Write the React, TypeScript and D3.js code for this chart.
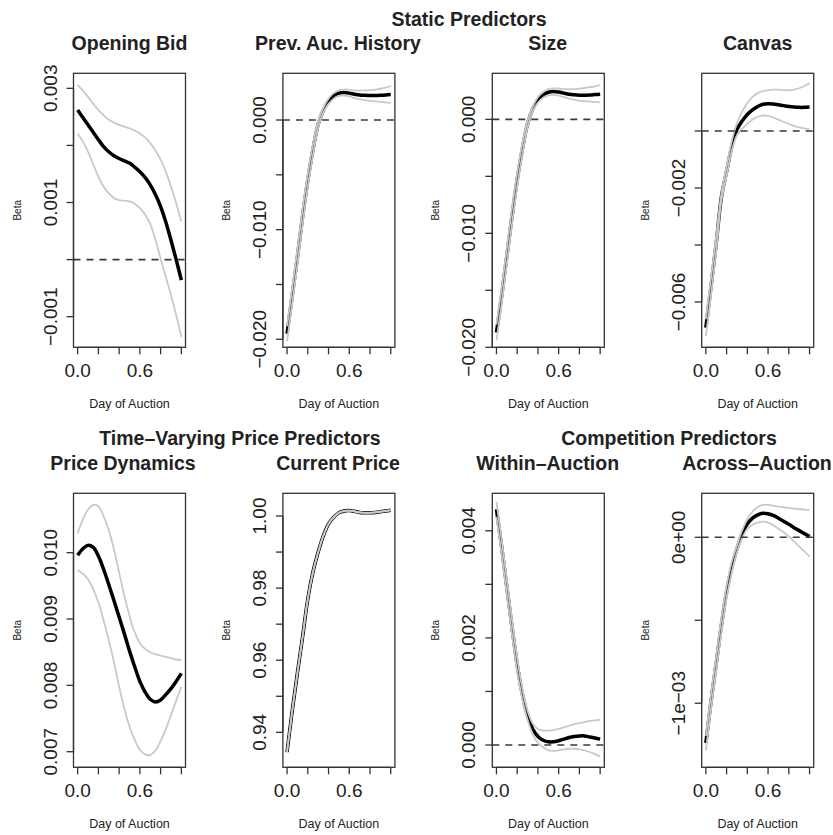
import React from "react";
import * as d3 from "d3";

// ---------- data ----------
const X_GRID = [0, 0.05, 0.1, 0.15, 0.2, 0.25, 0.3, 0.35, 0.4, 0.45, 0.5, 0.55, 0.6, 0.65, 0.7, 0.75, 0.8, 0.85, 0.9, 0.95, 1.0];

const PANEL_TITLES = ["Opening Bid", "Prev. Auc. History", "Size", "Canvas", "Price Dynamics", "Current Price", "Within\u2013Auction", "Across\u2013Auction"];
const GROUP_TITLES = ["Static Predictors", "Time\u2013Varying Price Predictors", "Competition Predictors"];
const X_LABEL = "Day of Auction";
const Y_LABEL = "Beta";

// Opening Bid
const EST_OPENING = [0.00262, 0.00249, 0.00236, 0.00223, 0.0021, 0.00198, 0.00189, 0.00182, 0.00177, 0.00173, 0.00169, 0.00162, 0.00154, 0.00144, 0.00131, 0.00114, 0.00093, 0.00066, 0.00034, 0.0, -0.00036];
const HI_OPENING = [0.00306, 0.00296, 0.00285, 0.00273, 0.00262, 0.00253, 0.00245, 0.0024, 0.00236, 0.00233, 0.0023, 0.00226, 0.00221, 0.00214, 0.00204, 0.00191, 0.00175, 0.00154, 0.00128, 0.00099, 0.00067];
const LO_OPENING = [0.00221, 0.00207, 0.00189, 0.00167, 0.00145, 0.00128, 0.00116, 0.00108, 0.00104, 0.00103, 0.00102, 0.00098, 0.0009, 0.00079, 0.00062, 0.00035, 0.00002, -0.0003, -0.00062, -0.00097, -0.00135];

// Prev. Auc. History
const EST_PREV = [-0.0195, -0.016, -0.0125, -0.0088, -0.0055, -0.0027, -0.0004, 0.0009, 0.0017, 0.0022, 0.00245, 0.0025, 0.00245, 0.00235, 0.00228, 0.00225, 0.00223, 0.00223, 0.00225, 0.00228, 0.00232];
const HI_PREV = [-0.0188, -0.0153, -0.0118, -0.0081, -0.0049, -0.0022, -0.0001, 0.00112, 0.00195, 0.00245, 0.0027, 0.00278, 0.00275, 0.0027, 0.00268, 0.0027, 0.00273, 0.00278, 0.00285, 0.00295, 0.0031];
const LO_PREV = [-0.0202, -0.0167, -0.0132, -0.0095, -0.0061, -0.0032, -0.0007, 0.0007, 0.00147, 0.00195, 0.0022, 0.00222, 0.00215, 0.002, 0.0019, 0.00182, 0.00175, 0.0017, 0.00165, 0.0016, 0.00155];

// Size
const EST_SIZE = [-0.0187, -0.0155, -0.012, -0.0085, -0.0053, -0.0026, -0.0004, 0.0009, 0.0017, 0.00215, 0.00238, 0.00245, 0.0024, 0.0023, 0.0022, 0.00215, 0.00212, 0.00212, 0.00214, 0.00217, 0.0022];
const HI_SIZE = [-0.018, -0.0148, -0.0113, -0.0078, -0.0047, -0.0021, -0.0001, 0.00112, 0.00195, 0.0024, 0.00265, 0.00272, 0.0027, 0.00266, 0.00264, 0.00265, 0.0027, 0.00275, 0.00282, 0.0029, 0.003];
const LO_SIZE = [-0.0194, -0.0162, -0.0127, -0.0092, -0.0059, -0.0031, -0.0007, 0.0007, 0.00147, 0.0019, 0.0021, 0.00215, 0.00208, 0.00195, 0.00182, 0.00172, 0.00165, 0.0016, 0.00156, 0.00152, 0.00148];

// Canvas
const EST_CANVAS = [-0.0069, -0.00545, -0.00395, -0.00232, -0.00142, -0.00055, 0.00005, 0.00035, 0.00058, 0.00074, 0.00086, 0.00094, 0.00096, 0.00095, 0.00092, 0.00089, 0.00086, 0.00084, 0.00083, 0.00083, 0.00084];
const HI_CANVAS = [-0.0066, -0.00515, -0.00367, -0.0022, -0.00125, -0.00035, 0.00028, 0.00068, 0.00098, 0.0012, 0.00133, 0.0014, 0.00143, 0.00145, 0.00145, 0.00144, 0.00143, 0.00145, 0.0015, 0.00158, 0.00168];
const LO_CANVAS = [-0.0072, -0.00575, -0.00423, -0.00245, -0.00158, -0.0007, -0.00015, 0.00008, 0.00025, 0.0004, 0.0005, 0.00055, 0.00053, 0.00047, 0.0004, 0.00032, 0.00025, 0.00018, 0.00013, 0.00009, 0.00006];

// Price Dynamics
const EST_DYN = [0.00996, 0.01006, 0.01011, 0.01008, 0.00995, 0.00975, 0.00952, 0.00928, 0.00903, 0.00878, 0.00852, 0.00828, 0.00806, 0.0079, 0.00779, 0.00775, 0.00778, 0.00786, 0.00795, 0.00806, 0.00818];
const HI_DYN = [0.01029, 0.0105, 0.01065, 0.01072, 0.0107, 0.01055, 0.01034, 0.01005, 0.0097, 0.00935, 0.00905, 0.0088, 0.00864, 0.00855, 0.0085, 0.00847, 0.00845, 0.00843, 0.00841, 0.00839, 0.00838];
const LO_DYN = [0.00974, 0.00968, 0.0096, 0.00945, 0.00925, 0.00898, 0.00868, 0.00835, 0.00798, 0.00765, 0.00738, 0.00718, 0.00703, 0.00696, 0.00695, 0.00702, 0.00716, 0.00734, 0.00755, 0.00777, 0.00798];

// Current Price
const EST_PRICE = [0.9345, 0.946, 0.9565, 0.9665, 0.977, 0.9845, 0.99, 0.9945, 0.9978, 0.9997, 1.0009, 1.0014, 1.0015, 1.0013, 1.001, 1.0009, 1.0009, 1.001, 1.0012, 1.0014, 1.0016];
const HI_PRICE = [0.93455, 0.94605, 0.95655, 0.96655, 0.97705, 0.98455, 0.99005, 0.99455, 0.99785, 0.99975, 1.00095, 1.00145, 1.00155, 1.00135, 1.00105, 1.00095, 1.00095, 1.00105, 1.00125, 1.00145, 1.00165];
const LO_PRICE = [0.93445, 0.94595, 0.95645, 0.96645, 0.97695, 0.98445, 0.98995, 0.99445, 0.99775, 0.99965, 1.00085, 1.00135, 1.00145, 1.00125, 1.00095, 1.00085, 1.00085, 1.00095, 1.00115, 1.00135, 1.00155];

// Within-Auction
const EST_WITHIN = [0.0044, 0.0037, 0.00295, 0.0022, 0.0015, 0.00095, 0.00055, 0.0003, 0.00016, 0.00009, 0.00006, 0.00006, 0.00008, 0.00011, 0.00014, 0.00016, 0.00017, 0.00017, 0.00015, 0.00013, 0.00011];
const HI_WITHIN = [0.00454, 0.00384, 0.00309, 0.00234, 0.00163, 0.00105, 0.00064, 0.0004, 0.0003, 0.00027, 0.00027, 0.00028, 0.0003, 0.00033, 0.00036, 0.00039, 0.00041, 0.00043, 0.00045, 0.00046, 0.00047];
const LO_WITHIN = [0.00426, 0.00356, 0.00281, 0.00206, 0.00137, 0.00085, 0.00047, 0.0002, 0.00004, -0.00004, -0.0001, -0.00011, -0.0001, -0.00008, -0.00007, -0.00007, -0.00008, -0.0001, -0.00013, -0.00017, -0.00022];

// Across-Auction
const EST_ACROSS = [-0.00124, -0.00099, -0.00076, -0.00053, -0.00033, -0.00018, -0.00007, 0.00002, 0.00008, 0.000115, 0.000135, 0.000145, 0.000142, 0.000132, 0.000115, 0.000097, 0.000078, 0.000058, 0.00004, 0.000022, 0.000004];
const HI_ACROSS = [-0.001196, -0.000946, -0.000716, -0.000486, -0.000292, -0.000148, -0.00005, 0.000042, 0.00011, 0.000155, 0.000183, 0.000195, 0.000195, 0.00019, 0.000185, 0.00018, 0.000177, 0.000173, 0.00017, 0.000167, 0.000165];
const LO_ACROSS = [-0.001284, -0.001034, -0.000804, -0.000574, -0.000366, -0.000212, -0.00009, -0.000005, 0.00005, 0.000075, 0.000088, 0.000094, 0.000088, 0.000072, 0.000052, 0.00003, 0.000005, -0.000025, -0.000055, -0.000085, -0.000116];

// axis limits (usr) per panel
const Y_DOMAINS = [
  [-0.001536, 0.003263],
  [-0.02073, 0.00426],
  [-0.02, 0.00404],
  [-0.00759, 0.002025],
  [0.006765, 0.010895],
  [0.9303, 1.0063],
  [-0.000416, 0.0047],
  [-0.001386, 0.000265],
];
const X_DOMAIN = [-0.04, 1.04];

// tick values and which ones carry a label
const Y_TICKS = [
  [0.003, 0.002, 0.001, 0, -0.001],
  [0, -0.005, -0.01, -0.015, -0.02],
  [0, -0.005, -0.01, -0.015, -0.02],
  [0, -0.002, -0.004, -0.006],
  [0.01, 0.009, 0.008, 0.007],
  [1.0, 0.99, 0.98, 0.97, 0.96, 0.95, 0.94],
  [0.004, 0.003, 0.002, 0.001, 0],
  [0, -0.0005, -0.001],
];
const Y_TICK_LABELS = [
  ["0.003", "", "0.001", "", "\u22120.001"],
  ["0.000", "", "\u22120.010", "", "\u22120.020"],
  ["0.000", "", "\u22120.010", "", "\u22120.020"],
  ["", "\u22120.002", "", "\u22120.006"],
  ["0.010", "0.009", "0.008", "0.007"],
  ["1.00", "", "0.98", "", "0.96", "", "0.94"],
  ["0.004", "", "0.002", "", "0.000"],
  ["0e+00", "", "\u22121e\u221203"],
];
const X_TICKS = [0, 0.2, 0.4, 0.6, 0.8, 1.0];
const X_TICK_LABELS = ["0.0", "", "", "0.6", "", ""];
const SHOW_ZERO_LINE = [true, true, true, true, false, false, true, true];

const ESTS = [EST_OPENING, EST_PREV, EST_SIZE, EST_CANVAS, EST_DYN, EST_PRICE, EST_WITHIN, EST_ACROSS];
const HIS = [HI_OPENING, HI_PREV, HI_SIZE, HI_CANVAS, HI_DYN, HI_PRICE, HI_WITHIN, HI_ACROSS];
const LOS = [LO_OPENING, LO_PREV, LO_SIZE, LO_CANVAS, LO_DYN, LO_PRICE, LO_WITHIN, LO_ACROSS];

// ---------- layout ----------
const W = 833;
const H = 835;
const BOX_W = 112;
const BOX_H = 274;
const colLeft = (c: number) => 73.5 + c * 209.4;
const rowTop = (r: number) => 73.3 + r * 420;
const FONT = "'Liberation Sans', Arial, Helvetica, sans-serif";
const TEXT_COL = "#222";
const AXIS_COL = "#333";

const titleX = [129.5, 338, 547.7, 757.7, 123, 338, 547.7, 757];
const groupPos = [
  { x: 469, y: 26 },
  { x: 240, y: 445 },
  { x: 669, y: 445 },
];

function Panel({ i }: { i: number }) {
  const c = i % 4;
  const r = Math.floor(i / 4);
  const left = colLeft(c);
  const top = rowTop(r);
  const right = left + BOX_W;
  const bottom = top + BOX_H;
  const x = d3.scaleLinear().domain(X_DOMAIN).range([left, right]);
  const y = d3.scaleLinear().domain(Y_DOMAINS[i]).range([bottom, top]);
  const line = d3
    .line<number>()
    .x((_, k) => x(X_GRID[k]))
    .y((v) => y(v))
    .curve(d3.curveCatmullRom.alpha(0.5));
  const yt = Y_TICKS[i];
  const ytl = Y_TICK_LABELS[i];
  const midY = (top + bottom) / 2;
  return (
    <g>
      <text
        x={titleX[i]}
        y={top - 23.5}
        textAnchor="middle"
        fontFamily={FONT}
        fontWeight="bold"
        fontSize={19.5}
        fill={TEXT_COL}
      >
        {PANEL_TITLES[i]}
      </text>
      <path d={line(ESTS[i]) || ""} fill="none" stroke="#000" strokeWidth={3.5} strokeLinejoin="round" />
      <path d={line(HIS[i]) || ""} fill="none" stroke="#c9c9c9" strokeWidth={1.8} />
      <path d={line(LOS[i]) || ""} fill="none" stroke="#c9c9c9" strokeWidth={1.8} />
      {SHOW_ZERO_LINE[i] && (
        <line x1={left} x2={right} y1={y(0)} y2={y(0)} stroke="#3a3a3a" strokeWidth={1.6} strokeDasharray="7,6" />
      )}
      <rect x={left} y={top} width={BOX_W} height={BOX_H} fill="none" stroke={AXIS_COL} strokeWidth={1.3} />
      {/* y axis */}
      <line x1={left} x2={left} y1={y(yt[0])} y2={y(yt[yt.length - 1])} stroke={AXIS_COL} strokeWidth={1.3} />
      {yt.map((v, k) => (
        <g key={k}>
          <line x1={left - 7} x2={left} y1={y(v)} y2={y(v)} stroke={AXIS_COL} strokeWidth={1.3} />
          {ytl[k] && (
            <text
              transform={`translate(${left - 17},${y(v)}) rotate(-90)`}
              textAnchor="middle"
              fontFamily={FONT}
              fontSize={19}
              fill={TEXT_COL}
            >
              {ytl[k]}
            </text>
          )}
        </g>
      ))}
      {/* x axis */}
      <line x1={x(X_TICKS[0])} x2={x(X_TICKS[X_TICKS.length - 1])} y1={bottom} y2={bottom} stroke={AXIS_COL} strokeWidth={1.3} />
      {X_TICKS.map((v, k) => (
        <g key={k}>
          <line x1={x(v)} x2={x(v)} y1={bottom} y2={bottom + 7} stroke={AXIS_COL} strokeWidth={1.3} />
          {X_TICK_LABELS[k] && (
            <text x={x(v)} y={bottom + 30} textAnchor="middle" fontFamily={FONT} fontSize={19} fill={TEXT_COL}>
              {X_TICK_LABELS[k]}
            </text>
          )}
        </g>
      ))}
      <text
        x={(left + right) / 2}
        y={bottom + 61}
        textAnchor="middle"
        fontFamily={FONT}
        fontSize={12.5}
        fill={TEXT_COL}
      >
        {X_LABEL}
      </text>
      <text
        transform={`translate(${left - 53},${midY}) rotate(-90)`}
        textAnchor="middle"
        fontFamily={FONT}
        fontSize={10}
        fill={TEXT_COL}
      >
        {Y_LABEL}
      </text>
    </g>
  );
}

export default function App() {
  return (
    <svg
      width={W}
      height={H}
      viewBox={`0 0 ${W} ${H}`}
      style={{ position: "absolute", left: 0, top: 0, background: "#fff" }}
    >
      <rect x={0} y={0} width={W} height={H} fill="#fff" />
      {GROUP_TITLES.map((t, k) => (
        <text
          key={k}
          x={groupPos[k].x}
          y={groupPos[k].y}
          textAnchor="middle"
          fontFamily={FONT}
          fontWeight="bold"
          fontSize={19.5}
          fill={TEXT_COL}
        >
          {t}
        </text>
      ))}
      {PANEL_TITLES.map((_, i) => (
        <Panel key={i} i={i} />
      ))}
    </svg>
  );
}
